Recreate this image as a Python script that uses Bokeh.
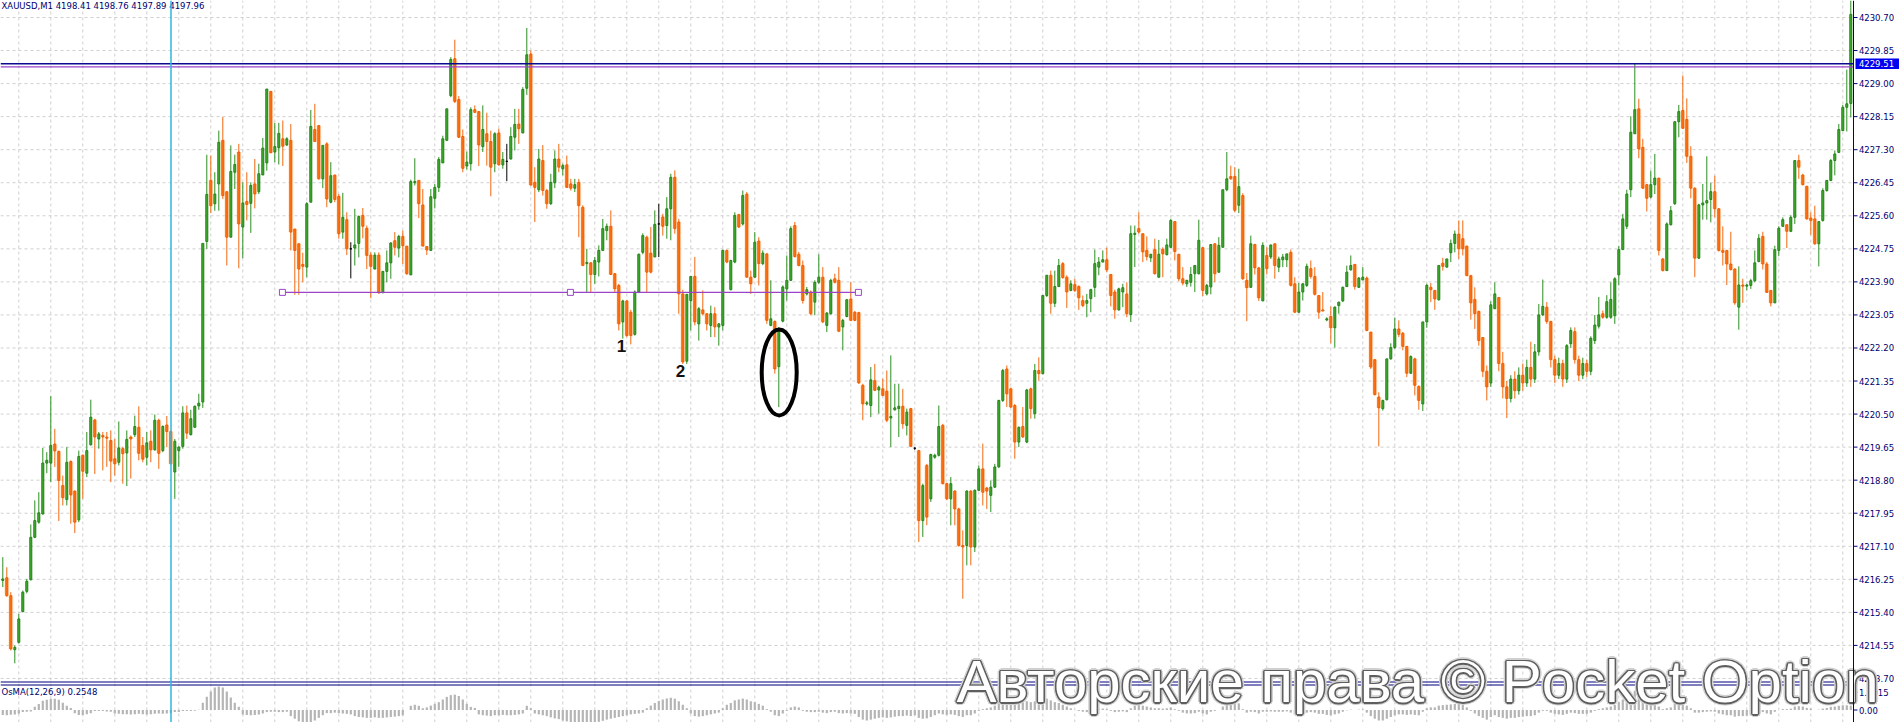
import numpy as np
from bokeh.plotting import figure
from bokeh.models import ColumnDataSource, Range1d, Span
from bokeh.embed import file_html
from bokeh.resources import INLINE
from bokeh.core.properties import value

# ---------------- data: XAUUSD M1 candles ----------------
open_ = [
4216.22,4216.29,4215.83,4214.44,4214.63,4215.42,4215.94,4216.24,4217.33,4217.72,
4217.93,4219.24,4219.24,4219.73,4219.54,4218.66,4218.30,4219.28,4218.52,4217.78,
4219.44,4218.98,4219.71,4220.35,4219.86,4219.95,4219.91,4219.82,4219.35,4219.26,
4219.61,4219.50,4219.91,4219.97,4220.16,4219.69,4219.39,4219.80,4219.58,4220.34,
4219.56,4220.22,4220.05,4219.01,4219.56,4219.67,4220.53,4219.97,4220.16,4220.71,
4220.81,4224.94,4226.51,4225.91,4226.42,4227.54,4226.22,4225.05,4226.72,4227.24,
4225.31,4225.97,4225.92,4226.42,4226.22,4226.65,4226.96,4228.80,4227.24,4227.35,
4227.58,4227.42,4227.54,4225.26,4224.88,4224.35,4224.28,4225.95,4227.82,4227.92,
4226.55,4227.45,4225.95,4226.65,4226.10,4225.18,4225.50,4224.75,4224.77,4224.89,
4225.61,4225.28,4224.59,4224.23,4224.59,4223.62,4224.17,4224.39,4224.96,4224.77,
4225.07,4224.82,4224.08,4226.45,4226.51,4225.88,4224.81,4224.71,4226.05,4226.33,
4226.96,4227.54,4228.69,4229.64,4228.59,4227.64,4226.88,4226.94,4228.33,4228.28,
4227.38,4227.71,4227.51,4226.94,4227.73,4226.91,4227.00,4227.06,4227.62,4227.96,
4227.73,4228.88,4229.76,4226.46,4226.27,4227.02,4226.25,4225.91,4226.45,4227.06,
4226.81,4226.91,4226.42,4226.31,4226.46,4225.82,4224.37,4224.39,4224.09,4224.41,
4224.71,4225.22,4225.33,4224.11,4223.81,4222.87,4223.41,4223.12,4222.55,4223.64,
4224.66,4225.05,4224.64,4224.54,4225.39,4225.57,4225.35,4225.78,4226.59,4225.44,
4223.59,4221.86,4223.42,4224.04,4222.82,4223.18,4223.08,4222.78,4223.08,4222.74,
4222.78,4224.71,4223.70,4224.41,4225.63,4225.39,4226.16,4224.02,4224.02,4224.95,
4224.37,4224.62,4222.78,4222.88,4221.72,4222.89,4223.72,4223.94,4225.35,4224.61,
4224.32,4223.59,4223.64,4223.38,4223.89,4224.02,4222.78,4223.08,4223.98,4223.94,
4222.74,4223.01,4223.46,4223.12,4223.11,4221.24,4220.76,4220.72,4221.36,4221.12,
4221.15,4221.09,4220.40,4220.61,4220.64,4220.70,4220.21,4220.64,4219.62,4219.56,
4217.76,4219.18,4218.32,4219.39,4219.44,4220.21,4218.71,4218.32,4218.52,4218.06,
4217.12,4217.12,4218.52,4217.08,4218.54,4219.09,4218.60,4218.41,4218.62,4219.14,
4220.85,4221.66,4221.15,4220.72,4219.78,4220.18,4219.78,4221.15,4220.51,4221.62,
4221.54,4223.55,4224.07,4223.35,4223.78,4224.37,4224.02,4223.68,4223.83,4223.78,
4223.42,4223.35,4223.47,4223.76,4224.28,4224.41,4224.47,4224.09,4223.64,4223.18,
4223.64,4223.59,4223.06,4225.12,4225.27,4225.14,4224.71,4224.52,4224.73,4224.02,
4224.74,4224.60,4224.79,4225.45,4224.61,4223.98,4223.85,4223.89,4224.11,4224.11,
4224.78,4223.59,4223.77,4224.88,4224.15,4224.79,4226.27,4226.61,4226.61,4225.87,
4226.12,4223.94,4223.76,4224.86,4224.26,4223.41,4224.58,4224.54,4224.88,4224.28,
4224.47,4224.47,4224.66,4223.85,4223.12,4223.64,4223.81,4224.24,4224.04,4223.55,
4223.18,4222.92,4223.01,4222.72,4223.29,4223.41,4223.78,4224.21,4224.35,4223.76,
4223.95,4224.00,4222.61,4221.90,4220.94,4220.64,4220.87,4221.92,4222.21,4222.69,
4222.58,4222.24,4221.55,4221.92,4221.21,4220.76,4222.87,4223.76,4223.68,4223.44,
4224.38,4224.28,4224.65,4224.89,4225.13,4225.01,4224.82,4224.06,4223.45,4223.14,
4222.47,4221.60,4221.30,4223.21,4223.50,4221.80,4221.20,4220.90,4221.40,4221.10,
4221.50,4221.30,4221.70,4221.40,4222.10,4223.05,4223.25,4222.88,4221.90,4221.50,
4221.80,4221.40,4222.31,4222.62,4221.90,4221.50,4221.80,4221.60,4222.39,4222.76,
4223.08,4222.99,4222.99,4223.03,4224.08,4224.73,4225.33,4226.27,4227.71,4228.35,
4227.36,4226.40,4226.08,4226.40,4226.57,4224.49,4224.19,4225.37,4225.91,4228.02,
4228.31,4228.08,4227.13,4226.31,4224.51,4225.88,4225.93,4226.02,4226.22,4225.78,
4224.71,4224.71,4224.36,4224.23,4223.25,4223.82,4223.79,4223.81,4223.93,4224.42,
4225.07,4224.36,4223.68,4223.36,4224.71,4225.33,4225.37,4225.20,4225.56,4227.02,
4226.65,4226.36,4225.54,4225.52,4224.88,4225.48,4226.25,4226.51,4227.02,4227.23,
4227.79,4228.39,4228.49]

high = [
4216.82,4216.56,4215.92,4214.55,4215.36,4215.96,4216.26,4217.66,4218.28,4218.49,
4219.63,4219.52,4220.96,4220.12,4219.56,4218.92,4219.65,4219.31,4218.53,4219.56,
4219.46,4220.04,4220.87,4220.38,4220.04,4220.04,4220.04,4220.08,4219.86,4220.31,
4219.65,4220.08,4219.95,4220.46,4220.70,4219.91,4220.04,4220.08,4220.49,4220.38,
4220.21,4220.45,4220.08,4219.86,4219.67,4220.70,4220.72,4220.61,4220.72,4221.02,
4224.89,4227.17,4227.15,4226.72,4227.79,4228.14,4226.22,4227.41,4227.17,4227.45,
4226.46,4226.72,4226.46,4227.06,4226.94,4227.60,4228.86,4228.80,4227.99,4227.99,
4228.05,4227.62,4227.96,4225.26,4224.88,4224.65,4225.95,4228.32,4228.48,4227.92,
4227.41,4227.49,4226.98,4226.65,4226.16,4226.19,4225.69,4224.92,4225.78,4225.61,
4225.80,4225.35,4224.66,4224.66,4224.66,4224.17,4224.71,4224.92,4225.18,4225.11,
4225.22,4224.82,4226.53,4227.08,4226.51,4226.29,4224.82,4226.29,4226.42,4227.11,
4227.66,4228.35,4229.68,4230.13,4228.68,4227.82,4227.25,4228.39,4228.44,4228.28,
4228.44,4228.25,4227.79,4227.75,4227.84,4227.24,4227.45,4227.88,4228.35,4228.35,
4228.91,4230.43,4229.85,4226.85,4227.32,4227.42,4226.29,4226.68,4227.28,4227.45,
4226.94,4227.15,4226.55,4226.55,4226.55,4225.87,4224.75,4224.41,4224.54,4224.84,
4225.52,4225.40,4225.74,4224.13,4223.85,4223.44,4223.43,4223.18,4223.68,4224.63,
4225.15,4225.09,4225.31,4225.74,4225.91,4225.65,4226.08,4226.68,4226.77,4225.52,
4223.70,4223.58,4224.04,4224.54,4223.25,4223.68,4223.10,4223.29,4223.25,4222.84,
4224.73,4224.73,4224.47,4225.69,4225.65,4226.25,4226.21,4224.19,4225.18,4225.05,
4224.71,4224.64,4223.94,4222.91,4222.74,4223.81,4224.58,4225.33,4225.44,4224.67,
4224.45,4223.77,4223.68,4223.94,4224.61,4224.28,4223.12,4223.98,4224.11,4224.28,
4222.95,4223.46,4223.89,4223.15,4223.13,4221.28,4220.84,4221.71,4221.79,4221.23,
4221.41,4221.62,4222.01,4221.28,4221.28,4221.15,4220.64,4220.66,4219.65,4219.58,
4218.71,4219.22,4219.48,4219.48,4220.72,4220.25,4218.73,4218.88,4218.54,4218.09,
4217.51,4218.54,4218.54,4218.56,4219.18,4219.74,4218.62,4218.79,4219.22,4220.87,
4221.66,4221.75,4221.18,4220.76,4220.18,4220.68,4221.15,4221.18,4221.79,4221.96,
4223.55,4224.07,4224.19,4224.19,4224.49,4224.41,4224.07,4223.94,4223.98,4223.81,
4223.55,4223.59,4223.72,4224.73,4224.54,4224.71,4224.78,4224.09,4223.70,4223.75,
4223.85,4223.89,4225.35,4225.35,4225.69,4225.14,4225.07,4224.62,4225.01,4224.98,
4224.79,4225.01,4225.52,4225.45,4224.62,4224.28,4223.95,4224.28,4224.32,4225.50,
4224.79,4223.85,4224.86,4224.88,4225.05,4226.27,4227.24,4226.89,4226.85,4226.81,
4226.18,4224.13,4225.09,4224.88,4224.28,4224.92,4224.79,4224.85,4224.88,4224.55,
4224.62,4224.62,4224.73,4224.02,4223.87,4223.87,4224.37,4224.45,4224.28,4223.55,
4223.64,4222.99,4223.27,4223.27,4223.38,4223.78,4224.32,4224.58,4224.35,4224.02,
4224.28,4224.04,4222.61,4221.90,4221.06,4220.87,4221.92,4222.32,4222.98,4222.91,
4222.61,4222.24,4222.01,4221.95,4221.24,4222.87,4223.85,4223.87,4223.68,4224.32,
4224.52,4224.49,4224.99,4225.22,4225.48,4225.48,4224.83,4224.08,4223.76,4223.16,
4222.47,4221.75,4223.40,4223.89,4223.50,4222.10,4221.35,4221.50,4221.60,4221.70,
4221.80,4221.90,4222.36,4222.30,4223.33,4223.96,4223.38,4222.90,4222.00,4221.95,
4221.90,4222.30,4222.73,4222.73,4222.00,4221.95,4221.90,4222.50,4223.05,4223.51,
4223.16,4223.56,4223.89,4224.02,4224.82,4225.65,4226.27,4228.16,4229.51,4228.61,
4227.58,4226.42,4226.76,4227.19,4226.57,4224.51,4225.43,4225.85,4228.02,4228.45,
4229.21,4228.62,4227.39,4226.33,4225.91,4226.42,4227.13,4226.45,4226.63,4225.79,
4225.33,4224.71,4225.19,4224.25,4224.30,4223.98,4223.85,4223.98,4224.71,4225.13,
4225.19,4224.41,4223.68,4224.83,4225.33,4225.56,4225.37,4225.61,4227.02,4227.17,
4226.68,4226.36,4225.69,4225.86,4225.45,4226.31,4226.51,4227.06,4227.28,4227.96,
4228.45,4229.36,4231.14]

low = [
4216.05,4215.80,4214.42,4214.09,4214.60,4215.40,4215.89,4216.22,4217.31,4217.68,
4217.92,4218.98,4218.75,4219.14,4217.75,4218.15,4218.15,4217.68,4217.44,4217.72,
4218.32,4218.88,4219.69,4218.96,4219.61,4219.05,4219.14,4218.75,4218.92,4219.18,
4218.71,4218.65,4218.84,4219.91,4219.31,4219.26,4219.18,4219.26,4219.56,4219.09,
4219.52,4219.65,4219.20,4218.32,4219.14,4219.61,4219.86,4219.95,4220.15,4220.61,
4220.66,4224.75,4225.67,4225.73,4225.73,4226.03,4224.32,4225.05,4226.29,4224.25,
4224.51,4225.48,4225.16,4225.79,4226.16,4226.65,4226.76,4227.22,4226.98,4226.92,
4226.88,4227.40,4224.71,4223.57,4223.57,4223.89,4224.02,4225.95,4227.51,4226.53,
4226.31,4225.82,4225.92,4225.95,4225.01,4225.01,4224.59,4223.99,4224.32,4224.53,
4225.02,4224.23,4223.48,4224.23,4223.59,4223.62,4223.89,4223.98,4224.58,4224.53,
4224.36,4224.08,4224.08,4226.38,4225.54,4224.82,4224.59,4224.71,4225.79,4226.21,
4226.96,4227.54,4228.65,4228.50,4227.60,4226.72,4226.79,4226.76,4228.25,4226.88,
4227.24,4226.89,4226.10,4226.72,4226.89,4226.81,4226.49,4227.05,4227.28,4227.45,
4227.73,4228.71,4226.38,4225.44,4226.21,4226.12,4225.78,4225.88,4226.31,4226.72,
4226.64,4226.33,4226.25,4226.21,4225.05,4224.32,4223.64,4223.64,4223.85,4224.04,
4224.71,4224.97,4224.09,4223.64,4222.65,4222.44,4222.48,4222.29,4222.52,4223.61,
4224.61,4223.64,4224.12,4224.54,4224.54,4225.09,4225.01,4224.97,4225.14,4223.08,
4221.79,4221.79,4222.65,4222.78,4222.39,4223.04,4222.65,4222.48,4222.48,4222.26,
4222.65,4224.38,4223.68,4224.38,4225.29,4225.35,4224.02,4223.59,4224.02,4223.81,
4224.33,4222.82,4222.76,4221.54,4220.68,4222.86,4223.42,4223.92,4224.53,4224.30,
4223.34,4223.55,4223.04,4223.04,4223.85,4222.84,4222.61,4223.06,4223.86,4222.61,
4222.14,4222.99,4222.89,4222.89,4221.28,4220.34,4220.72,4220.42,4221.09,4220.51,
4220.96,4220.29,4219.65,4220.59,4219.91,4220.12,4219.95,4219.65,4219.58,4217.21,
4217.34,4217.64,4218.24,4219.35,4219.41,4218.69,4218.29,4217.64,4217.64,4217.09,
4215.75,4216.61,4216.61,4216.95,4218.52,4218.15,4218.06,4217.98,4218.60,4219.12,
4220.81,4220.68,4220.66,4219.35,4219.65,4219.89,4219.75,4220.38,4220.38,4221.36,
4221.52,4223.51,4223.08,4223.25,4223.77,4223.98,4223.23,4223.66,4223.64,4223.18,
4223.25,4222.99,4223.12,4223.51,4224.07,4224.41,4224.15,4223.27,4222.95,4223.16,
4223.25,4222.99,4222.87,4224.28,4225.14,4224.41,4224.45,4224.41,4224.09,4224.01,
4224.02,4224.58,4224.78,4224.45,4223.92,4223.81,4223.77,4223.78,4223.64,4224.09,
4223.53,4223.55,4223.58,4223.89,4224.13,4224.79,4226.23,4226.53,4225.69,4225.67,
4223.95,4222.89,4223.76,4224.09,4223.41,4223.41,4224.09,4224.49,4223.98,4224.15,
4224.28,4224.28,4223.78,4223.10,4223.10,4223.42,4223.77,4223.98,4223.55,4222.95,
4223.15,4222.89,4222.32,4222.21,4223.08,4223.38,4223.77,4224.19,4223.70,4223.75,
4223.94,4222.63,4221.66,4220.98,4219.67,4220.59,4220.85,4221.90,4222.18,4222.48,
4222.14,4221.45,4221.54,4220.98,4220.61,4220.58,4222.72,4223.38,4223.18,4223.42,
4224.19,4224.27,4224.41,4224.66,4224.49,4224.58,4224.05,4222.93,4222.69,4222.26,
4221.45,4220.85,4221.20,4223.21,4221.60,4220.90,4220.40,4220.80,4220.90,4221.00,
4221.10,4221.20,4221.20,4221.30,4222.00,4223.03,4222.82,4221.70,4221.30,4221.40,
4221.20,4221.30,4222.20,4221.80,4221.35,4221.40,4221.45,4221.50,4222.30,4222.70,
4222.95,4222.95,4222.95,4222.82,4223.81,4224.73,4225.26,4226.08,4227.71,4227.08,
4226.29,4225.71,4226.05,4226.16,4224.58,4224.17,4224.19,4225.35,4225.88,4227.62,
4227.84,4226.96,4226.05,4224.02,4224.49,4225.50,4225.50,4225.43,4225.56,4224.68,
4224.32,4223.82,4224.19,4223.31,4222.67,4223.36,4223.68,4223.72,4223.89,4224.41,
4224.22,4223.62,4223.27,4223.36,4224.56,4225.31,4224.77,4225.18,4225.39,4226.55,
4226.38,4225.50,4225.11,4224.85,4224.30,4225.45,4226.22,4226.49,4226.64,4227.22,
4227.79,4227.77,4228.13]

close = [
4216.26,4215.83,4214.46,4214.50,4215.23,4215.92,4216.20,4217.33,4217.76,4217.96,
4219.24,4219.31,4219.69,4219.55,4218.79,4218.35,4219.26,4218.42,4217.72,4219.41,
4219.03,4219.56,4220.42,4219.91,4219.99,4219.91,4219.88,4219.29,4219.22,4219.63,
4219.48,4219.85,4219.86,4220.18,4219.49,4219.34,4219.76,4219.58,4220.34,4219.49,
4220.18,4220.05,4219.22,4219.80,4219.65,4220.53,4220.01,4220.38,4220.70,4220.78,
4224.89,4226.15,4225.86,4226.16,4227.49,4226.12,4225.05,4226.74,4226.92,4225.39,
4225.93,4225.89,4226.38,4226.16,4226.68,4227.34,4228.86,4227.22,4227.38,4227.72,
4227.39,4227.58,4225.18,4224.71,4224.23,4224.30,4225.91,4227.90,4227.51,4226.55,
4227.41,4226.03,4226.63,4226.02,4225.14,4225.56,4224.75,4224.75,4224.85,4225.58,
4225.33,4224.58,4224.30,4224.59,4223.62,4224.17,4224.39,4224.90,4224.79,4225.07,
4224.83,4224.11,4226.48,4226.48,4225.91,4224.82,4224.72,4226.09,4226.33,4227.05,
4227.58,4228.35,4229.62,4228.54,4227.62,4226.82,4226.98,4228.33,4228.26,4227.42,
4227.82,4227.51,4226.85,4227.71,4226.91,4227.05,4227.00,4227.64,4227.95,4227.84,
4228.85,4229.74,4226.39,4226.33,4227.06,4226.25,4225.91,4226.46,4227.06,4226.85,
4226.89,4226.33,4226.31,4226.40,4225.86,4224.32,4224.40,4224.09,4224.45,4224.71,
4225.27,4225.33,4224.09,4223.72,4222.82,4223.41,4222.52,4222.52,4223.64,4224.61,
4225.09,4224.15,4224.15,4225.38,4225.39,4225.33,4225.78,4226.59,4225.27,4223.59,
4221.84,4223.58,4224.04,4222.87,4223.21,4223.08,4222.82,4223.08,4222.74,4222.82,
4224.71,4224.41,4224.45,4225.61,4225.31,4226.12,4224.02,4223.85,4224.92,4224.37,
4224.64,4222.91,4222.95,4221.66,4222.69,4223.77,4223.94,4225.27,4224.55,4224.32,
4223.42,4223.70,4223.08,4223.89,4224.02,4222.87,4223.10,4223.94,4223.89,4222.63,
4222.91,4223.44,4222.91,4222.91,4221.30,4220.76,4220.79,4221.38,4221.11,4221.19,
4220.98,4220.34,4220.44,4220.66,4220.70,4220.25,4220.55,4219.67,4219.62,4217.76,
4218.66,4217.85,4219.46,4219.44,4220.18,4218.71,4218.32,4218.71,4218.06,4217.12,
4217.08,4218.52,4217.08,4218.54,4219.09,4218.49,4218.52,4218.62,4219.14,4220.85,
4221.62,4221.02,4220.68,4219.78,4220.16,4219.91,4221.12,4220.64,4221.62,4221.54,
4223.55,4224.07,4223.35,4223.78,4224.32,4224.01,4223.64,4223.85,4223.68,4223.49,
4223.29,4223.42,4223.70,4224.37,4224.41,4224.47,4224.21,4223.55,4223.18,4223.72,
4223.75,4223.08,4225.14,4225.15,4225.18,4224.67,4224.55,4224.61,4224.11,4224.61,
4224.62,4224.85,4225.48,4224.68,4223.98,4223.87,4223.94,4224.09,4224.32,4224.97,
4223.68,4223.81,4224.86,4224.11,4224.84,4226.27,4226.55,4226.55,4225.74,4226.35,
4223.98,4223.75,4224.88,4224.26,4223.49,4224.84,4224.24,4224.85,4224.32,4224.49,
4224.54,4224.62,4223.81,4223.12,4223.64,4223.85,4224.30,4224.04,4223.58,4223.12,
4223.15,4222.95,4222.72,4223.25,4223.38,4223.76,4224.15,4224.32,4223.78,4224.00,
4224.02,4222.65,4221.71,4221.00,4220.66,4220.85,4221.92,4222.21,4222.69,4222.55,
4222.24,4221.55,4221.98,4221.24,4220.85,4222.87,4223.81,4223.70,4223.46,4224.32,
4224.30,4224.49,4224.89,4225.13,4224.75,4224.75,4224.06,4223.36,4223.08,4222.39,
4221.60,4221.20,4223.31,4223.59,4221.80,4221.20,4220.90,4221.40,4221.10,4221.50,
4221.30,4221.70,4221.40,4222.10,4223.05,4223.27,4222.88,4221.90,4221.50,4221.80,
4221.40,4222.26,4222.65,4221.90,4221.50,4221.80,4221.60,4222.45,4222.79,4223.05,
4222.99,4223.39,4223.45,4223.98,4224.73,4225.52,4226.16,4227.75,4228.33,4227.32,
4226.31,4226.05,4226.40,4226.57,4224.71,4224.19,4225.39,4225.73,4228.02,4228.28,
4227.85,4227.13,4226.31,4224.51,4225.88,4225.93,4225.99,4226.22,4225.78,4224.71,
4224.66,4224.36,4224.22,4223.36,4223.82,4223.79,4223.82,4223.93,4224.39,4225.02,
4224.36,4223.63,4223.36,4224.73,4225.28,4225.50,4225.20,4225.56,4227.02,4226.85,
4226.40,4225.52,4225.48,4224.88,4225.45,4226.25,4226.51,4227.02,4227.19,4227.82,
4228.39,4228.48,4230.78]

# OsMA(12,26,9) histogram, one value per candle
osma = [
-0.28,-0.3,-0.27,-0.25,-0.22, -0.12,-0.1,-0.08,
0.18,0.35,0.53,0.59,0.65,0.65,0.59,0.41,0.24,0.12,
-0.18,-0.29,-0.29,-0.24,-0.18, -0.06,-0.05,-0.06,-0.08,-0.1,
-0.2,-0.22,-0.24,-0.24,-0.25,-0.24,-0.22,-0.24,-0.25,-0.24,-0.22,-0.2,-0.22,-0.2,-0.18,
-0.12,-0.12,-0.06,-0.06,-0.06,-0.04,0.02,
0.41,0.76,1.06,1.29,1.35,1.29,1.06,0.71,0.41,0.18,
-0.25,-0.29,-0.3,-0.29,-0.26,-0.2, -0.12,-0.1,-0.1,-0.12,-0.12,-0.1,
-0.35,-0.5,-0.65,-0.75,-0.75,-0.7,-0.6,-0.45,-0.3,
-0.18,-0.18,-0.15,-0.18,-0.2,-0.22,-0.25,
-0.35,-0.4,-0.42,-0.45,-0.45,-0.42,-0.45,-0.45,-0.42,-0.4,-0.38,-0.35,-0.3,
0.0, 0.24,0.3,0.24, 0.1,0.15,0.25,0.35,
0.45,0.6,0.75,0.85,0.88,0.8,0.6,0.35, 0.18,0.12,
-0.25,-0.3,-0.32,-0.35,-0.3,-0.3,-0.28,-0.3,-0.3,-0.28,-0.25,-0.2,
0.24,0.1,
-0.2,-0.25,-0.3,-0.35,-0.42,-0.48,-0.52,-0.6,-0.65,-0.7,-0.72,-0.74,-0.75,-0.76,
-0.75,-0.72,-0.68,-0.62,-0.55,-0.5,-0.45,-0.4,-0.35,-0.3,-0.25,-0.22,-0.2,-0.15,
0.1,0.25,0.4,0.52,0.6,0.66,0.7,0.65,0.5,0.3,0.1,
-0.2,-0.35,-0.38,-0.35, -0.3,-0.25,-0.2,-0.15,
0.1,0.3,0.4,0.55,0.6,0.65,0.6,0.5,0.45,0.35,0.25,
0.05,-0.1,-0.3,-0.35, -0.2,-0.05,0.15,0.2,0.15,
-0.05,-0.1,-0.12,-0.12,-0.1,-0.15,-0.18,-0.12,-0.1,-0.18,-0.2,-0.18,-0.2,-0.22,
-0.4,-0.55,-0.6,-0.55,-0.5,-0.45,-0.42,-0.45,-0.42,-0.38,-0.35,-0.35,-0.32,-0.35,-0.3,-0.45,
-0.5,-0.48,-0.4,-0.3,-0.2,-0.25,-0.28,-0.25,-0.28,-0.35,-0.4,-0.3,-0.3,-0.2,
-0.05,0.05,0.1,0.15,0.25,0.45,0.65,0.8,0.75,0.6,0.5,0.45,0.5,0.45,0.5,0.45,0.6,0.65,0.55,
0.45,0.4,0.3,0.2,0.1,0.0,-0.05,-0.1,-0.12,-0.08,0.0,0.05,0.08,0.05,-0.05,-0.12,-0.1,-0.08,-0.12,
0.1,0.25,0.3,0.25,0.2,0.15,0.1,0.1,0.08,0.1,0.15,
0.05,-0.05,-0.15,-0.2,-0.2,-0.18,-0.1,-0.2,-0.25,
-0.1,-0.05,0.0,0.2,0.35,0.42,0.4,0.38,
0.05,-0.15,-0.1,-0.12,-0.2,-0.1,-0.1,-0.08,-0.1,-0.1,-0.1,-0.08,-0.15,-0.25,-0.25,-0.22,
-0.15,-0.12,-0.15,-0.22,-0.22,-0.28,-0.3,-0.25,-0.2,-0.1,-0.02,0.02,0.0,0.02,0.03,
-0.15,-0.35,-0.5,-0.6,-0.6,-0.5,-0.4,-0.3,-0.25,-0.25,-0.28,-0.25,-0.28,-0.3,
-0.1,0.1,0.15,0.15,0.25,0.28,0.3,0.32,0.35,0.35,0.3,
0.15,-0.05,-0.2,-0.35,-0.45,-0.55,
-0.4,-0.3,-0.4,-0.45,-0.5,-0.45,-0.45,-0.4,-0.38,-0.35,-0.35,-0.3,-0.15,-0.05,-0.05,-0.15,
-0.22,-0.25,-0.28,-0.22,-0.15,-0.18,-0.22,-0.22,-0.22,-0.15,
-0.05,0.05,0.1,0.15,0.2,0.3,0.45,0.6,0.8,1.0,1.1,
0.95,0.75,0.6,0.5,0.45,0.2,0.05,0.1,0.15,0.35,0.45,0.4,
0.25,0.1,-0.15,-0.15,-0.12,-0.1,-0.08,-0.1,-0.2,-0.25,-0.3,-0.3,-0.38,-0.35,-0.35,-0.33,
-0.3,-0.22,-0.12,-0.12,-0.2,-0.25,
-0.1,0.0,0.05,0.05,0.08,0.2,0.22,0.2,0.12,0.08,0.0,0.02,0.08,0.12,0.18,0.2,0.24,0.27,0.27,0.25]

# price scale (right side)
price_ticks = [4213.70, 4214.55, 4215.40, 4216.25, 4217.10, 4217.95, 4218.80, 4219.65,
               4220.50, 4221.35, 4222.20, 4223.05, 4223.90, 4224.75, 4225.60, 4226.45,
               4227.30, 4228.15, 4229.00, 4229.85, 4230.70]
osma_ticks = [1.0015, 0.00]
osma_tick_labels = ["1.0015", "0.00"]

# chart objects
bid_price = 4229.51
purple_level = 4229.43
separator_levels = [4213.609, 4213.532]
cursor_bar = 42.05
trend_x = [69.9, 141.9, 213.9]
trend_price = [4223.63, 4223.63, 4223.63]
marks_x = [154.7, 169.4]
marks_price = [4222.26, 4221.62]
marks_text = ["1", "2"]
ring_x, ring_price, ring_w, ring_h = 194.1, 4221.57, 8.75, 2.21
title_text = "XAUUSD,M1  4198.41 4198.76 4197.89 4197.96"
osma_title = "OsMA(12,26,9) 0.2548"
watermark = "Авторские права © Pocket Option"

# ---------------- figure ----------------
n = min(len(open_), len(high), len(low), len(close))
idx = np.arange(n)
o = np.array(open_[:n]); h = np.array(high[:n]); l = np.array(low[:n]); c = np.array(close[:n])

X0, X1 = -0.575, 474.175          # candle-index range across the whole window
Y0, Y1 = 4212.5673, 4231.1372      # price range
AX = 462.675                        # price-scale line position (in candle index units)
OS0, OS1 = -0.714, 40.543           # OsMA sub-window scale

p = figure(frame_width=1899, frame_height=722, output_backend="svg", toolbar_location=None,
           x_range=Range1d(X0, X1), y_range=Range1d(Y0, Y1),
           x_axis_location=None, y_axis_location=None,
           min_border_left=0, min_border_right=0, min_border_top=0, min_border_bottom=0,
           background_fill_color="white", border_fill_color="white")
p.outline_line_color = None
p.grid.visible = False
p.extra_y_ranges = {"osma": Range1d(OS0, OS1)}

grid_x = list(range(4, 463, 8))
p.segment(x0=grid_x, x1=grid_x, y0=Y0, y1=Y1, line_color="#cfcfcf", line_dash="3 3", line_width=1)
p.segment(x0=X0, x1=AX, y0=price_ticks, y1=price_ticks, line_color="#cfcfcf",
          line_dash="3 3", line_width=1)

# OsMA histogram
m = min(n, len(osma))
p.vbar(x=idx[:m], top=osma[:m], bottom=0, width=0.55, fill_color="#b5b5b5",
       line_color=None, y_range_name="osma")

# candles
top = np.maximum(o, c); bot = np.minimum(o, c)
def draw(mask, fill, line, wick, glow=None):
    src = ColumnDataSource(dict(x=idx[mask], h=h[mask], l=l[mask], top=top[mask], bot=bot[mask]))
    if glow:
        p.vbar(x="x", top="top", bottom="bot", width=1.25, source=src,
               fill_color=glow, fill_alpha=0.55, line_color=None)
    p.segment(x0="x", y0="h", x1="x", y1="l", source=src, line_color=wick, line_width=1)
    p.vbar(x="x", top="top", bottom="bot", width=0.5, source=src,
           fill_color=fill, line_color=line, line_width=1)

draw(c > o, "#3fae2e", "#24801a", "#2b8f20")
draw(c < o, "#ff7417", "#ee5c00", "#f46810", glow="#ffd6ad")
draw(c == o, "#000000", "#000000", "#000000")

# horizontal levels, cursor bar, separators
p.segment(x0=X0, x1=AX, y0=purple_level, y1=purple_level, line_color="#9c44c8", line_width=1.2)
p.segment(x0=X0, x1=AX, y0=bid_price, y1=bid_price, line_color="#0a0a90", line_width=1.3)
p.add_layout(Span(location=cursor_bar, dimension="height", line_color="#2fb6de", line_width=1.5))
p.segment(x0=X0, x1=AX + 0.5, y0=separator_levels, y1=separator_levels,
          line_color="#000080", line_width=1.2)

# trend line with anchors
p.line(x=[trend_x[0], trend_x[-1]], y=[trend_price[0], trend_price[-1]],
       line_color="#9c44c8", line_width=1.2)
p.scatter(x=trend_x, y=trend_price, marker="square", size=6, fill_color="white",
          line_color="#9c44c8", line_width=1)

# hand annotations
p.text(x=marks_x, y=marks_price, text=marks_text, text_font=value("Liberation Sans"),
       text_font_style="bold", text_font_size="17px", text_align="center",
       text_baseline="middle", text_color="#111111")
p.ellipse(x=ring_x, y=ring_price, width=ring_w, height=ring_h, fill_color=None,
          line_color="black", line_width=4)

# price scale: line, ticks, labels
p.add_layout(Span(location=AX, dimension="height", line_color="#000080", line_width=1))
p.segment(x0=AX, x1=AX + 1.0, y0=price_ticks, y1=price_ticks, line_color="#000080")
p.text(x=AX + 1.35, y=price_ticks, text=["%.2f" % t for t in price_ticks],
       text_font=value("DejaVu Sans"), text_font_size="8.5px", text_color="#000070",
       text_baseline="middle", text_align="left")
p.segment(x0=AX, x1=AX + 1.0, y0=osma_ticks, y1=osma_ticks, line_color="#000080",
          y_range_name="osma")
p.text(x=AX + 1.35, y=osma_ticks, text=osma_tick_labels, text_font=value("DejaVu Sans"),
       text_font_size="8.5px", text_color="#000070", text_baseline="middle",
       y_range_name="osma")
# bid price box
p.quad(left=AX + 0.5, right=X1, bottom=bid_price - 0.135, top=bid_price + 0.135,
       fill_color="#0000f0", line_color=None)
p.text(x=AX + 1.35, y=bid_price, text=["%.2f" % bid_price], text_font=value("DejaVu Sans"),
       text_font_size="8.5px", text_color="white", text_baseline="middle")

# window titles
p.text(x=X0, y=Y1, text=[title_text], text_font=value("DejaVu Sans"), text_font_size="8.5px",
       text_color="#000070", text_baseline="top", x_offset=1, y_offset=0)
p.text(x=X0, y=1.03, text=[osma_title], text_font=value("DejaVu Sans"), text_font_size="8.5px",
       text_color="#000070", text_baseline="middle", x_offset=1, y_range_name="osma")

# watermark (outlined text)
wx, wy = 238.425, 4213.617
offs, cols = [], []
for r, col in [(3.0, "#d0d0d0"), (1.5, "#5e5e5e")]:
    for dx, dy in [(1, 0), (-1, 0), (0, 1), (0, -1), (0.7, 0.7), (-0.7, 0.7), (0.7, -0.7), (-0.7, -0.7)]:
        offs.append((dx * r, dy * r)); cols.append(col)
offs.append((0, 0)); cols.append("white")
wsrc = ColumnDataSource(dict(x=[wx] * len(offs), y=[wy] * len(offs), t=[watermark] * len(offs),
                             dx=[a for a, b in offs], dy=[b for a, b in offs], col=cols))
p.text(x="x", y="y", text="t", x_offset="dx", y_offset="dy", text_color="col", source=wsrc,
       text_font=value("Liberation Sans"), text_font_size="60px", text_baseline="middle")

open("out.html", "w").write(file_html(p, INLINE))
